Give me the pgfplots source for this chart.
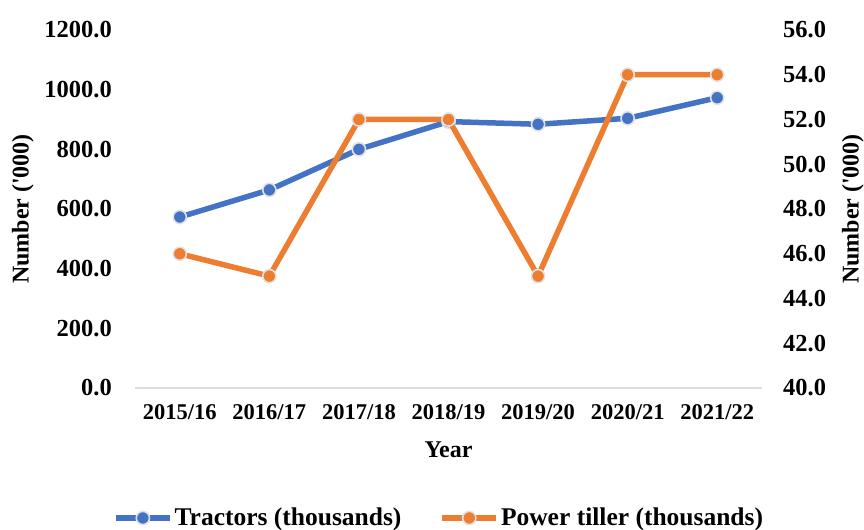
\documentclass[border=0pt]{standalone}
\usepackage{fontspec}
\setmainfont{Liberation Serif}
\usepackage{pgfplots}
\pgfplotsset{compat=1.18}
\definecolor{tblue}{HTML}{4472C4}
\definecolor{torange}{HTML}{ED7D31}
\definecolor{mk}{HTML}{E2E2E2}
\definecolor{axl}{HTML}{D9DEE6}
\newcommand{\cf}{\fontsize{24bp}{28bp}\selectfont\bfseries}
\newcommand{\xf}{\fontsize{22.5bp}{26bp}\selectfont\bfseries}
\newcommand{\yf}{\fontsize{24.5bp}{28bp}\selectfont\bfseries}
\newcommand{\lf}{\fontsize{25.5bp}{30bp}\selectfont\bfseries}
\newcommand{\ylab}{Number (\textquotesingle000)}
\begin{document}
\begin{tikzpicture}
\cf
\path[use as bounding box] (-135bp,-142bp) rectangle (729bp,388bp);
\pgfplotsset{
  common/.style={
    scale only axis, width=627bp, height=358bp,
    xmin=-0.5, xmax=6.5, xtick={0,...,6},
    tick style={draw=none},
    /pgf/number format/assume math mode=true,
    xticklabel style={font=\xf},
    yticklabel style={font=\yf},
    label style={font=\lf},
    yticklabel style={/pgf/number format/fixed, /pgf/number format/fixed zerofill,
      /pgf/number format/precision=1, /pgf/number format/1000 sep={}},
  },
  tractor/.style={tblue, line width=5.5bp, mark=*, mark size=6.6bp,
    mark options={fill=tblue, draw=mk, line width=1.6bp}},
  tiller/.style={torange, line width=5.5bp, mark=*, mark size=6.6bp,
    mark options={fill=torange, draw=mk, line width=1.6bp}},
}
\begin{axis}[common,
  ymin=0, ymax=1200, ytick={0,200,...,1200},
  axis x line*=bottom, axis y line*=left,
  y axis line style={draw=none},
  x axis line style={axl, line width=1.5bp},
  xticklabels={2015/16,2016/17,2017/18,2018/19,2019/20,2020/21,2021/22},
  xticklabel style={yshift=-8bp},
  yticklabel style={xshift=-15bp},
  xlabel={Year}, ylabel={\ylab},
  every axis x label/.style={at={(axis description cs:0.5,-0.173)}, anchor=center},
  every axis y label/.style={at={(axis description cs:-0.179,0.5)}, anchor=center, rotate=90},
]
\addplot[tractor] coordinates {(0,573) (1,664) (2,800) (3,893) (4,884) (5,904) (6,973)};
\end{axis}
\begin{axis}[common,
  ymin=40, ymax=56, ytick={40,42,...,56},
  axis x line=none, axis y line*=right,
  y axis line style={draw=none},
  yticklabel style={xshift=13bp},
  ylabel={\ylab},
  every axis y label/.style={at={(axis description cs:1.145,0.5)}, anchor=center, rotate=90},
  legend style={at={(axis description cs:0.485,-0.363)}, anchor=center, draw=none,
    font=\lf, legend columns=2, /tikz/every even column/.append style={column sep=36bp}},
  legend image code/.code={\draw[#1, mark repeat=2, mark phase=2] plot coordinates {(0bp,0bp) (27bp,0bp) (54bp,0bp)};},
]
\addlegendimage{tractor}
\addlegendentry{Tractors (thousands)}
\addplot[tiller] coordinates {(0,46) (1,45) (2,52) (3,52) (4,45) (5,54) (6,54)};
\addlegendentry{Power tiller (thousands)}
\end{axis}
\end{tikzpicture}
\end{document}
